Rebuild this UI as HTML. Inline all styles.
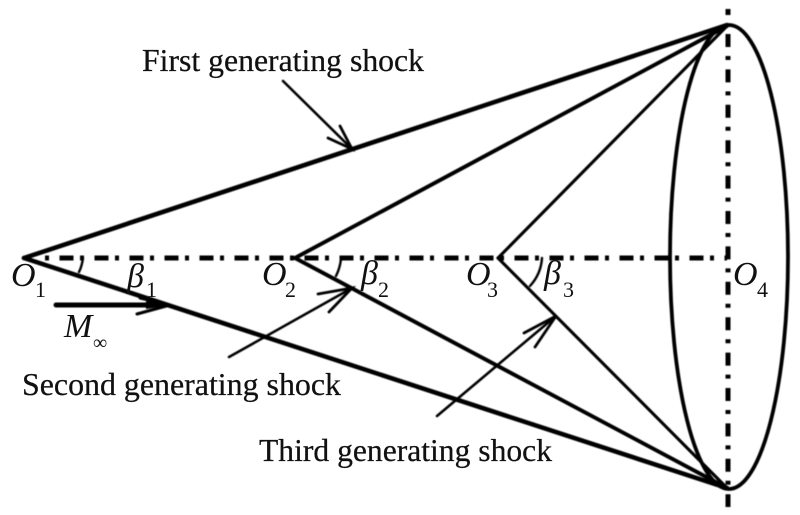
<!DOCTYPE html>
<html>
<head>
<meta charset="utf-8">
<style>
html,body{margin:0;padding:0;background:#fff;width:800px;height:515px;overflow:hidden}
svg{display:block}
text{font-family:"Liberation Serif",serif;fill:#111}
.i{font-style:italic;font-size:34px}
.s{font-size:22px}
.l{font-size:32px;stroke:#111;stroke-width:0.25px}
</style>
</head>
<body>
<svg width="800" height="515" viewBox="0 0 800 515" xmlns="http://www.w3.org/2000/svg">
<g fill="none" stroke="#000" stroke-linecap="round" style="filter:blur(0.4px)">
  <!-- axes -->
  <line x1="45" y1="258" x2="727" y2="258" stroke-width="5" style="stroke-linecap:butt;stroke-dasharray:4 10.5 14 6.5"/>
  <line x1="728" y1="34" x2="728" y2="507" stroke-width="5" style="stroke-linecap:butt;stroke-dasharray:13 9 4 9.4"/>
  <line x1="728" y1="9" x2="728" y2="15" stroke-width="5" style="stroke-linecap:butt"/>
  <!-- ellipse -->
  <ellipse cx="729" cy="257" rx="59" ry="232" stroke-width="3.8"/>
  <!-- shocks -->
  <line x1="24" y1="258" x2="727" y2="25" stroke-width="4.6"/>
  <line x1="24" y1="258" x2="727" y2="488" stroke-width="4.6"/>
  <line x1="295" y1="258" x2="727" y2="26" stroke-width="3.9"/>
  <line x1="295" y1="258" x2="727" y2="488" stroke-width="3.9"/>
  <line x1="498" y1="258" x2="727" y2="26" stroke-width="3.1"/>
  <line x1="498" y1="258" x2="727" y2="488" stroke-width="3.1"/>
  <!-- leaders -->
  <line x1="283" y1="81" x2="352" y2="149" stroke-width="2.6"/>
  <path d="M340 126L352 149L328 138" stroke-width="2.8"/>
  <line x1="229" y1="357" x2="352" y2="288" stroke-width="2.6"/>
  <path d="M318 294L352 288L329 312" stroke-width="2.8"/>
  <line x1="437" y1="416" x2="556" y2="316" stroke-width="2.6"/>
  <path d="M524 333L556 316L535 347" stroke-width="2.8"/>
  <!-- Mach arrow -->
  <line x1="56" y1="305" x2="150" y2="305" stroke-width="5"/>
  <path d="M137 314L170 305L140 298" stroke-width="3"/>
  <path d="M146 301L172 305L146 309Z" fill="#000" stroke="none"/>
  <!-- angle arcs -->
  <path d="M83 258Q82 266 79 272" stroke-width="2.4"/>
  <path d="M341 259Q340 268 336 276" stroke-width="2.4"/>
  <path d="M542 258Q541 274 530 286" stroke-width="2.4"/>
  <line x1="341" y1="259" x2="348" y2="259" stroke-width="2"/>
</g>
<g style="filter:blur(0.3px)">
  <text class="l" x="142" y="71" textLength="282" lengthAdjust="spacingAndGlyphs">First generating shock</text>
  <text class="l" x="22" y="395" textLength="319" lengthAdjust="spacingAndGlyphs">Second generating shock</text>
  <text class="l" x="259" y="461" textLength="293" lengthAdjust="spacingAndGlyphs">Third generating shock</text>

  <text class="i" x="11" y="286">O</text><text class="s" x="35" y="297">1</text>
  <text class="i" x="262" y="285">O</text><text class="s" x="285" y="297">2</text>
  <text class="i" x="466" y="285">O</text><text class="s" x="487" y="297">3</text>
  <text class="i" x="733" y="285">O</text><text class="s" x="757" y="297">4</text>

  <text class="i" x="127" y="287">β</text><text class="s" x="146" y="297">1</text>
  <text class="i" x="361" y="284">β</text><text class="s" x="378" y="297">2</text>
  <text class="i" x="544" y="284">β</text><text class="s" x="563" y="297">3</text>

  <text class="i" x="64" y="337">M</text><text x="93" y="349" style="font-size:20px">∞</text>
</g>
</svg>
</body>
</html>
